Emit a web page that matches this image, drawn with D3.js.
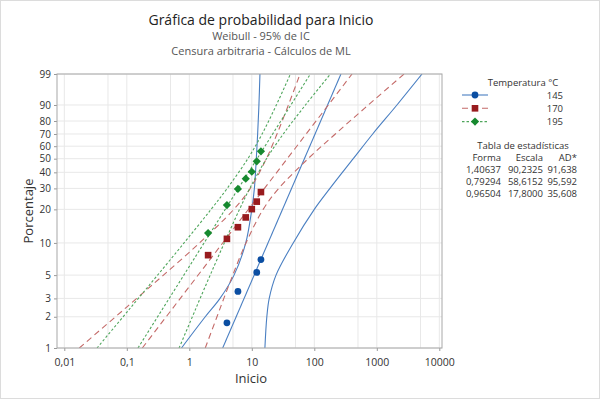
<!DOCTYPE html>
<html>
<head>
<meta charset="utf-8">
<script src="https://cdn.jsdelivr.net/npm/d3@7"></script>
<style>
  body { margin: 0; background: #fff; }
  text { font-family: "Segoe UI", "Open Sans", sans-serif; fill: #333; }
</style>
</head>
<body>
<svg id="chart" width="600" height="399"></svg>
<script>
// percent levels where the confidence bands were read
var pct = [1, 2, 3, 5, 10, 20, 30, 50, 70, 90, 99];
var fitPct = [1, 99];

// 145 °C
var fit145 = [3.42, 267];
var low145 = [0.75, 1.8, 3.1, 5.2, 8.0, 10.0, 11.0, 11.8, 12.4, 13.0, 13.5];
var high145 = [16.2, 17.4, 19, 24.4, 46, 100, 178, 420, 860, 2100, 5290];
var t145 = [4, 6, 12, 14];
var p145 = [1.75, 3.5, 5.3, 7.0];

// 170 °C
var fit170 = [0.177, 402];
var low170 = [0.0174, 0.066, 0.144, 0.386, 1.46, 5.15, 9.45, 17.1, 25.3, 38.5, 59.2];
var high170 = [1.8, 2.77, 3.57, 4.96, 8.07, 15.2, 27, 79.6, 217, 732, 2730];
var t170 = [2, 4, 6, 8, 10, 12, 14];
var p170 = [7.7, 10.9, 13.9, 17.0, 20.1, 23.3, 28.0];

// 195 °C
var fit195 = [0.151, 86.6];
var low195 = [0.0334, 0.0871, 0.153, 0.311, 0.824, 2.23, 4.04, 8.64, 14.6, 24.7, 41.5];
var high195 = [0.686, 1.12, 1.49, 2.16, 3.63, 6.36, 9.27, 17.2, 31.9, 72.2, 181];
var t195 = [2, 4, 6, 8, 10, 12, 14];
var p195 = [12.3, 21.8, 29.7, 35.8, 40.4, 48.0, 55.8];

var temps = ["145", "170", "195"];
var forma = ["1,40637", "0,79294", "0,96504"];
var escala = ["90,2325", "58,6152", "17,8000"];
var adStat = ["91,638", "95,592", "35,608"];

var yTicks = [1, 2, 3, 5, 10, 20, 30, 40, 50, 60, 70, 80, 90, 99];
var xTicks = [0.01, 0.1, 1, 10, 100, 1000, 10000];
var xTickLabels = ["0,01", "0,1", "1", "10", "100", "1000", "10000"];
var xGrid = [0.01, 0.05, 0.1, 0.5, 1, 5, 10, 50, 100, 500, 1000, 5000, 10000];

var plot = { left: 57, right: 442, top: 74, bottom: 348 };
var svg = d3.select("#chart");

// weibull probability paper
var wb = function (p) { return Math.log(-Math.log(1 - p / 100)); };
var yT = d3.scaleLinear().domain([wb(1), wb(99)]).range([plot.bottom, plot.top]);
var y = function (p) { return yT(wb(p)); };
var x = d3.scaleLog().domain([Math.pow(10, -2.1168), Math.pow(10, 4.0432)]).range([plot.left, plot.right]);

svg.append("rect").attr("x", 0.5).attr("y", 0.5).attr("width", 599).attr("height", 398)
    .attr("fill", "#fff").attr("stroke", "#dcdcdc");

// titles
svg.append("text").attr("x", 261).attr("y", 25).attr("text-anchor", "middle")
    .attr("font-size", 14).style("fill", "#222").style("font-weight", 500)
    .text("Gráfica de probabilidad para Inicio");
svg.append("text").attr("x", 261).attr("y", 40).attr("text-anchor", "middle")
    .attr("font-size", 11).style("fill", "#555").text("Weibull - 95% de IC");
svg.append("text").attr("x", 261).attr("y", 55).attr("text-anchor", "middle")
    .attr("font-size", 11).style("fill", "#555").text("Censura arbitraria - Cálculos de ML");

// grid
var grid = svg.append("g");
grid.selectAll(".gx").data(xGrid).join("line")
    .attr("x1", d => x(d)).attr("x2", d => x(d))
    .attr("y1", plot.top).attr("y2", plot.bottom)
    .attr("stroke", "#e8e8e8");
grid.selectAll(".gy").data(yTicks).join("line")
    .attr("x1", plot.left).attr("x2", plot.right)
    .attr("y1", d => y(d)).attr("y2", d => y(d))
    .attr("stroke", "#e8e8e8");

// axes
var yAxis = d3.axisLeft(yT).tickValues(yTicks.map(wb)).tickSize(3)
    .tickFormat((d, i) => yTicks[i]);
svg.append("g").attr("transform", "translate(" + plot.left + ",0)").call(yAxis)
    .call(g => g.select(".domain").remove())
    .call(g => g.selectAll("line").attr("stroke", "#999"))
    .call(g => g.selectAll("text").attr("font-size", 10).style("fill", "#333")
        .attr("font-family", null));

var xAxis = d3.axisBottom(x).tickValues(xTicks).tickSize(3)
    .tickFormat((d, i) => xTickLabels[i]);
svg.append("g").attr("transform", "translate(0," + plot.bottom + ")").call(xAxis)
    .call(g => g.select(".domain").remove())
    .call(g => g.selectAll("line").attr("stroke", "#999"))
    .call(g => g.selectAll("text").attr("font-size", 10.5).attr("dy", "1.1em").style("fill", "#333")
        .attr("font-family", null));

svg.append("text").attr("transform", "translate(33,211) rotate(-90)")
    .attr("text-anchor", "middle").attr("font-size", 13).text("Porcentaje");
svg.append("text").attr("x", 251).attr("y", 383)
    .attr("text-anchor", "middle").attr("font-size", 13).text("Inicio");

// clip
svg.append("clipPath").attr("id", "clip").append("rect")
    .attr("x", plot.left).attr("y", plot.top)
    .attr("width", plot.right - plot.left).attr("height", plot.bottom - plot.top);

var series = [
    { fit: fit145, low: low145, high: high145, t: t145, p: p145, mark: "#0b4ea2", line: "#4a7fc2", dash: null, sym: "circle" },
    { fit: fit170, low: low170, high: high170, t: t170, p: p170, mark: "#981b1e", line: "#c46a68", dash: "6,4", sym: "square" },
    { fit: fit195, low: low195, high: high195, t: t195, p: p195, mark: "#16892f", line: "#4fa65c", dash: "2.5,2", sym: "diamond" }
];

var curve = d3.line().x(d => x(d[1])).y(d => y(d[0])).curve(d3.curveCatmullRom.alpha(0.5));
var lines = svg.append("g").attr("clip-path", "url(#clip)");

series.forEach(function (s) {
    [s.low, s.high].forEach(function (arr) {
        lines.append("path").datum(pct.map((p, i) => [p, arr[i]]))
            .attr("d", curve).attr("fill", "none")
            .attr("stroke", s.line).attr("stroke-width", 1.1)
            .attr("stroke-dasharray", s.dash);
    });
    lines.append("path").datum(fitPct.map((p, i) => [p, s.fit[i]]))
        .attr("d", curve).attr("fill", "none")
        .attr("stroke", s.line).attr("stroke-width", 1.1)
        .attr("stroke-dasharray", s.dash);
});

var symbolPath = function (type) {
    if (type === "circle") return d3.symbol().type(d3.symbolCircle).size(36)();
    if (type === "square") return d3.symbol().type(d3.symbolSquare).size(44)();
    return d3.symbol().type(d3.symbolSquare).size(34)();
};
var symbolRot = function (type) { return type === "diamond" ? " rotate(45)" : ""; };

series.forEach(function (s) {
    svg.append("g").selectAll("path").data(s.t.map((t, i) => [t, s.p[i]])).join("path")
        .attr("d", symbolPath(s.sym))
        .attr("transform", d => "translate(" + x(d[0]) + "," + y(d[1]) + ")" + symbolRot(s.sym))
        .attr("fill", s.mark);
});

// frame
svg.append("rect").attr("x", plot.left).attr("y", plot.top)
    .attr("width", plot.right - plot.left).attr("height", plot.bottom - plot.top)
    .attr("fill", "none").attr("stroke", "#a8a8a8");

// legend
var leg = svg.append("g");
leg.append("text").attr("x", 523).attr("y", 86).attr("text-anchor", "middle")
    .attr("font-size", 9.5).text("Temperatura °C");
series.forEach(function (s, i) {
    var ly = 95 + i * 13.3;
    leg.append("line").attr("x1", 462).attr("x2", 488).attr("y1", ly).attr("y2", ly)
        .attr("stroke", s.line).attr("stroke-width", 1.1).attr("stroke-dasharray", s.dash);
    leg.append("path").attr("d", symbolPath(s.sym))
        .attr("transform", "translate(475," + ly + ")" + symbolRot(s.sym)).attr("fill", s.mark);
    leg.append("text").attr("x", 563).attr("y", ly + 3.5).attr("text-anchor", "end")
        .attr("font-size", 9.5).text(temps[i]);
});

// statistics table
leg.append("text").attr("x", 523).attr("y", 149).attr("text-anchor", "middle")
    .attr("font-size", 9.5).text("Tabla de estadísticas");
var cols = [501, 543, 577];
["Forma", "Escala", "AD*"].forEach(function (h, j) {
    leg.append("text").attr("x", cols[j]).attr("y", 160.5).attr("text-anchor", "end")
        .attr("font-size", 9.5).text(h);
});
temps.forEach(function (tp, i) {
    [forma[i], escala[i], adStat[i]].forEach(function (v, j) {
        leg.append("text").attr("x", cols[j]).attr("y", 172.5 + i * 12.4).attr("text-anchor", "end")
            .attr("font-size", 9.5).text(v);
    });
});
</script>
</body>
</html>
